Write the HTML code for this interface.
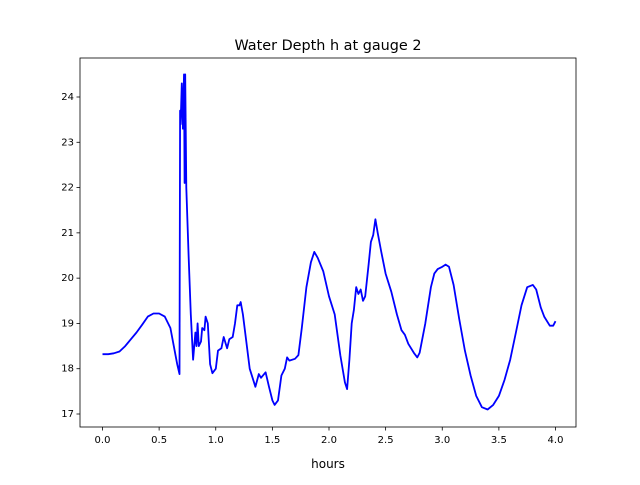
<!DOCTYPE html>
<html><head><meta charset="utf-8"><style>
body{margin:0;background:#fff;}
svg text{font-family:"DejaVu Sans","Liberation Sans",sans-serif;}
</style></head><body>
<svg id="chart" width="640" height="480" xmlns="http://www.w3.org/2000/svg">
<rect width="640" height="480" fill="#fff"/>
<text x="328" y="50" font-size="14.4" text-anchor="middle">Water Depth h at gauge 2</text>
<g id="plot"></g>
<rect x="80" y="58" width="496" height="369" fill="none" stroke="#000" stroke-width="0.8"/>
<text x="328" y="468" font-size="12" text-anchor="middle">hours</text>
</svg>
<script>
const times=[0,0.05,0.1,0.15,0.2,0.25,0.3,0.35,0.4,0.45,0.5,0.55,0.6,0.63,0.66,0.68,0.685,0.69,0.70,0.71,0.72,0.725,0.73,0.74,0.76,0.78,0.8,0.82,0.83,0.84,0.85,0.87,0.88,0.9,0.91,0.93,0.95,0.97,1.0,1.02,1.05,1.07,1.1,1.12,1.15,1.17,1.19,1.21,1.22,1.24,1.27,1.3,1.35,1.38,1.4,1.44,1.47,1.5,1.52,1.55,1.58,1.61,1.63,1.65,1.7,1.73,1.76,1.8,1.84,1.87,1.9,1.95,2.0,2.05,2.1,2.14,2.16,2.18,2.2,2.22,2.24,2.26,2.28,2.3,2.32,2.35,2.37,2.39,2.41,2.43,2.46,2.5,2.55,2.6,2.64,2.67,2.7,2.75,2.78,2.8,2.85,2.9,2.93,2.96,3.0,3.03,3.06,3.1,3.15,3.2,3.25,3.3,3.35,3.4,3.45,3.5,3.55,3.6,3.65,3.7,3.75,3.8,3.83,3.87,3.9,3.95,3.98,4.0];
const depths=[18.32,18.32,18.34,18.38,18.5,18.65,18.8,18.97,19.15,19.22,19.22,19.15,18.9,18.5,18.1,17.88,23.7,23.4,24.3,23.3,24.5,22.1,24.5,22.0,20.5,19.2,18.2,18.8,18.5,19.0,18.5,18.6,18.9,18.85,19.15,19.0,18.1,17.9,18.0,18.4,18.45,18.7,18.45,18.65,18.7,19.0,19.4,19.4,19.47,19.2,18.6,18.0,17.6,17.88,17.8,17.92,17.6,17.3,17.2,17.3,17.85,18.0,18.25,18.18,18.22,18.3,18.9,19.8,20.35,20.58,20.45,20.15,19.6,19.2,18.3,17.7,17.55,18.2,19.0,19.3,19.8,19.65,19.75,19.5,19.6,20.3,20.8,20.95,21.3,21.0,20.6,20.1,19.7,19.2,18.85,18.75,18.55,18.35,18.25,18.35,19.0,19.8,20.1,20.2,20.25,20.3,20.25,19.85,19.1,18.4,17.85,17.4,17.15,17.1,17.2,17.4,17.75,18.2,18.8,19.4,19.8,19.85,19.75,19.35,19.15,18.95,18.95,19.05];
const xTicks=[0,0.5,1,1.5,2,2.5,3,3.5,4];
const xTickLabels=["0.0","0.5","1.0","1.5","2.0","2.5","3.0","3.5","4.0"];
const yTicks=[17,18,19,20,21,22,23,24];
const yTickLabels=["17","18","19","20","21","22","23","24"];
const NS="http://www.w3.org/2000/svg";
const sx=v=>102.5+v*(555.5-102.5)/4;
const sy=v=>414-(v-17)*(414-97)/7;
const g=document.getElementById('plot');
function mk(t,a){const e=document.createElementNS(NS,t);for(const k in a)e.setAttribute(k,a[k]);g.appendChild(e);return e;}
xTicks.forEach((v,i)=>{
 const l=mk('line',{x1:sx(v),x2:sx(v),y1:427,y2:430.5,stroke:'#000','stroke-width':0.8});
 
 
 const t=mk('text',{x:sx(v),y:443,'font-size':10,'text-anchor':'middle'});
 t.textContent=xTickLabels[i];
 
 
});
yTicks.forEach((v,i)=>{
 const l=mk('line',{x1:76.5,x2:80,y1:sy(v),y2:sy(v),stroke:'#000','stroke-width':0.8});
 
 
 const t=mk('text',{x:74,y:sy(v)+3,'font-size':10,'text-anchor':'end'});
 t.textContent=yTickLabels[i];
 
 
});
const d=times.map((t,i)=>(i?'L':'M')+sx(t).toFixed(1)+','+sy(depths[i]).toFixed(1)).join('');
const p=mk('path',{d:d,fill:'none',stroke:'#0000ff','stroke-width':1.8,'stroke-linejoin':'round'});


</script>
</body></html>
